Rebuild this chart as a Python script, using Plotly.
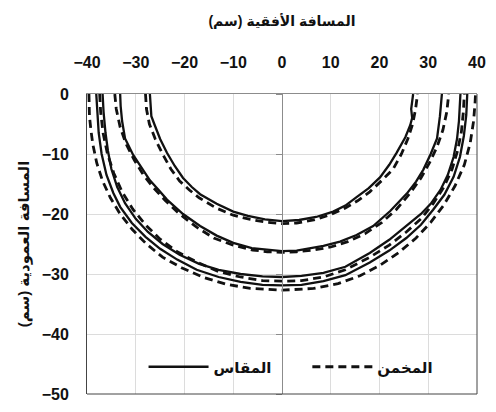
import plotly.graph_objects as go

# Horizontal distance (cm) and vertical distance (cm) of each profile,
# traced from left edge to right edge.
measured_1_x = [-27.1, -27.0, -26.8, -26.2, -25.0, -23.6, -22.0, -20.3, -18.5, -16.8, -13.4, -10.0, -7.0, -3.5, 0.0,
                3.5, 7.0, 10.5, 13.0, 15.3, 17.8, 20.1, 22.0, 23.5, 25.3, 26.3, 26.7, 26.5, 26.9]
measured_1_y = [0.0, -2.0, -3.7, -5.0, -7.5, -9.8, -12.0, -14.0, -15.5, -16.7, -18.3, -19.6, -20.3, -20.9, -21.2,
                -21.0, -20.5, -19.6, -18.6, -17.2, -15.7, -13.9, -11.8, -9.8, -7.2, -5.2, -4.0, -2.5, 0.0]

estimated_1_x = [-28.0, -27.8, -27.2, -26.0, -24.5, -22.8, -21.0, -19.0, -17.0, -13.5, -10.0, -6.5, -3.0, 0.0,
                 3.0, 6.5, 10.0, 13.0, 15.5, 18.0, 20.5, 22.8, 24.5, 25.8, 26.8, 27.4, 27.8]
estimated_1_y = [0.0, -2.5, -5.0, -7.5, -10.0, -12.5, -14.5, -16.0, -17.3, -19.0, -20.2, -20.9, -21.4, -21.6,
                 -21.5, -21.0, -20.1, -19.0, -17.8, -16.3, -14.4, -12.5, -10.0, -7.5, -5.0, -2.5, 0.0]

measured_2_x = [-33.2, -33.1, -32.8, -32.2, -30.5, -28.8, -27.1, -25.3, -23.6, -20.3, -16.8, -13.4, -10.0, -6.2, -3.0, 0.0,
                3.0, 5.1, 8.5, 11.9, 15.3, 18.7, 22.2, 25.6, 27.5, 29.0, 30.5, 31.8, 32.4, 32.8]
measured_2_y = [0.0, -2.0, -4.5, -7.4, -10.2, -12.4, -14.4, -16.0, -17.6, -20.0, -22.0, -23.6, -24.8, -25.7, -26.0, -26.2,
                -26.1, -25.8, -25.3, -24.6, -23.5, -22.0, -19.5, -16.6, -14.6, -12.6, -10.0, -7.4, -3.7, 0.0]

estimated_2_x = [-34.3, -34.0, -33.2, -32.0, -30.3, -28.5, -26.5, -24.0, -21.0, -17.5, -14.0, -10.0, -6.0, -3.0, 0.0,
                 3.0, 6.5, 10.0, 13.5, 17.0, 20.5, 23.5, 26.3, 28.5, 30.3, 31.8, 33.0, 33.8, 34.2]
estimated_2_y = [0.0, -2.5, -5.5, -8.3, -11.0, -13.4, -15.5, -17.7, -20.0, -22.2, -24.0, -25.2, -26.0, -26.3, -26.4,
                 -26.3, -26.0, -25.5, -24.6, -23.3, -21.4, -19.2, -16.5, -14.0, -11.4, -8.8, -6.0, -3.0, 0.0]

measured_3_x = [-36.8, -36.6, -36.2, -35.7, -35.0, -33.8, -32.2, -30.0, -27.5, -24.5, -21.0, -17.0, -13.0, -8.5, -4.0, 0.0,
                4.0, 8.5, 13.0, 18.0, 22.0, 25.5, 28.5, 30.5, 32.5, 34.0, 35.2, 35.9, 36.3, 36.6]
measured_3_y = [0.0, -3.0, -6.5, -9.5, -12.5, -15.5, -18.2, -20.8, -23.0, -25.0, -26.8, -28.3, -29.3, -30.0, -30.4, -30.5,
                -30.3, -29.8, -28.8, -26.5, -24.3, -22.0, -20.0, -18.3, -16.0, -13.5, -10.5, -7.5, -4.5, 0.0]

estimated_3_x = [-37.4, -37.2, -36.7, -35.8, -34.5, -32.8, -30.6, -28.0, -25.0, -21.5, -17.5, -13.0, -8.5, -4.0, 0.0,
                 4.0, 8.5, 13.0, 18.0, 22.0, 25.5, 28.5, 31.0, 33.2, 34.9, 36.0, 36.8, 37.2, 37.4]
estimated_3_y = [0.0, -3.0, -6.5, -10.0, -13.2, -16.3, -19.2, -21.8, -24.2, -26.3, -28.0, -29.6, -30.5, -31.1, -31.2,
                 -31.1, -30.5, -29.3, -27.2, -25.2, -23.0, -20.8, -18.3, -15.5, -12.5, -9.5, -6.3, -3.0, 0.0]

measured_4_x = [-38.1, -37.9, -37.6, -37.0, -36.0, -34.6, -33.2, -30.8, -28.0, -25.0, -21.5, -17.5, -13.0, -8.5, -4.0, 0.0,
                4.0, 8.5, 13.0, 18.0, 22.0, 25.5, 28.5, 31.0, 33.3, 35.2, 36.5, 37.3, 37.8, 38.0]
measured_4_y = [0.0, -3.0, -6.5, -10.0, -13.5, -16.5, -18.8, -21.5, -23.8, -25.8, -27.6, -29.3, -30.5, -31.3, -31.8, -31.9,
                -31.8, -31.2, -30.2, -28.1, -26.1, -24.0, -21.8, -19.3, -16.8, -13.8, -10.5, -7.0, -3.5, 0.0]

estimated_4_x = [-39.6, -39.5, -39.2, -38.8, -38.0, -36.8, -35.2, -33.2, -30.7, -27.8, -24.5, -20.5, -16.0, -11.5, -6.5, 0.0,
                 6.5, 11.5, 16.0, 20.0, 24.0, 27.5, 30.5, 33.2, 35.5, 37.4, 38.6, 39.3, 39.6, 39.7]
estimated_4_y = [0.0, -3.7, -6.0, -8.4, -11.5, -14.5, -17.3, -20.0, -22.6, -25.0, -27.2, -29.0, -30.6, -31.7, -32.4, -32.7,
                 -32.4, -31.6, -30.3, -28.6, -26.4, -24.0, -21.4, -18.5, -15.3, -11.8, -8.2, -4.5, -1.5, 0.0]

measured_label = "المقاس"
estimated_label = "المخمن"
x_title = "المسافة الأفقية (سم)"
y_title = "المسافة العمودية (سم)"
x_ticks = [-40, -30, -20, -10, 0, 10, 20, 30, 40]
y_ticks = [0, -10, -20, -30, -40, -50]

measured = [(measured_1_x, measured_1_y), (measured_2_x, measured_2_y),
            (measured_3_x, measured_3_y), (measured_4_x, measured_4_y)]
estimated = [(estimated_1_x, estimated_1_y), (estimated_2_x, estimated_2_y),
             (estimated_3_x, estimated_3_y), (estimated_4_x, estimated_4_y)]

FONT = "Liberation Sans, DejaVu Sans, sans-serif"

fig = go.Figure()
for i, (xs, ys) in enumerate(measured):
    fig.add_trace(go.Scatter(
        x=xs, y=ys, mode="lines", name=measured_label, legend="legend",
        showlegend=(i == 0), line=dict(color="#111111", width=2.3),
    ))
for i, (xs, ys) in enumerate(estimated):
    fig.add_trace(go.Scatter(
        x=xs, y=ys, mode="lines", name=estimated_label, legend="legend2",
        showlegend=(i == 0), line=dict(color="#111111", width=2.8, dash="8px,5px"),
    ))

# vertical axis crossing at x = 0 with cross tick marks
fig.add_trace(go.Scatter(x=[None], y=[None], yaxis="y2", showlegend=False, hoverinfo="skip"))

legend_style = dict(
    orientation="h", y=0.09, xanchor="left", yanchor="middle",
    bgcolor="rgba(0,0,0,0)", itemwidth=60,
    font=dict(size=15, weight="bold", family=FONT),
)

fig.update_layout(
    width=496, height=412,
    margin=dict(l=87, r=19, t=94, b=9),
    paper_bgcolor="white", plot_bgcolor="white",
    font=dict(family=FONT, color="#111111"),
    xaxis=dict(
        range=[-40, 40], side="top", tickvals=x_ticks,
        tickfont=dict(size=16, weight="bold", family=FONT),
        ticks="", ticklabelstandoff=19,
        showgrid=True, gridcolor="#dcdcdc", gridwidth=1,
        zeroline=False,
        showline=True, linecolor="#8c8c8c", linewidth=1, mirror=False,
        title=dict(text=x_title, font=dict(size=14, weight="bold", family=FONT), standoff=23),
    ),
    yaxis=dict(
        range=[-50, 0], tickvals=y_ticks,
        tickfont=dict(size=16, weight="bold", family=FONT),
        ticks="", ticklabelstandoff=14,
        showgrid=True, gridcolor="#dcdcdc", gridwidth=1,
        zeroline=False,
        showline=True, linecolor="#444444", linewidth=1, mirror=False,
        title=dict(text=y_title, font=dict(size=15, weight="bold", family=FONT), standoff=8),
    ),
    yaxis2=dict(
        range=[-50, 0], tickvals=y_ticks, overlaying="y", anchor="free", position=0.5,
        showticklabels=False, ticks="outside", ticklen=6, tickcolor="#8c8c8c",
        showgrid=False, zeroline=False,
        showline=True, linecolor="#8c8c8c", linewidth=1,
    ),
    shapes=[
        dict(type="line", xref="paper", yref="paper", x0=1, x1=1, y0=0, y1=1,
             line=dict(color="#444444", width=1)),
        dict(type="line", xref="paper", yref="paper", x0=0, x1=1, y0=0, y1=0,
             line=dict(color="#444444", width=1)),
    ],
    legend=dict(legend_style, x=0.145),
    legend2=dict(legend_style, x=0.565),
)

fig.write_html("out.html")
